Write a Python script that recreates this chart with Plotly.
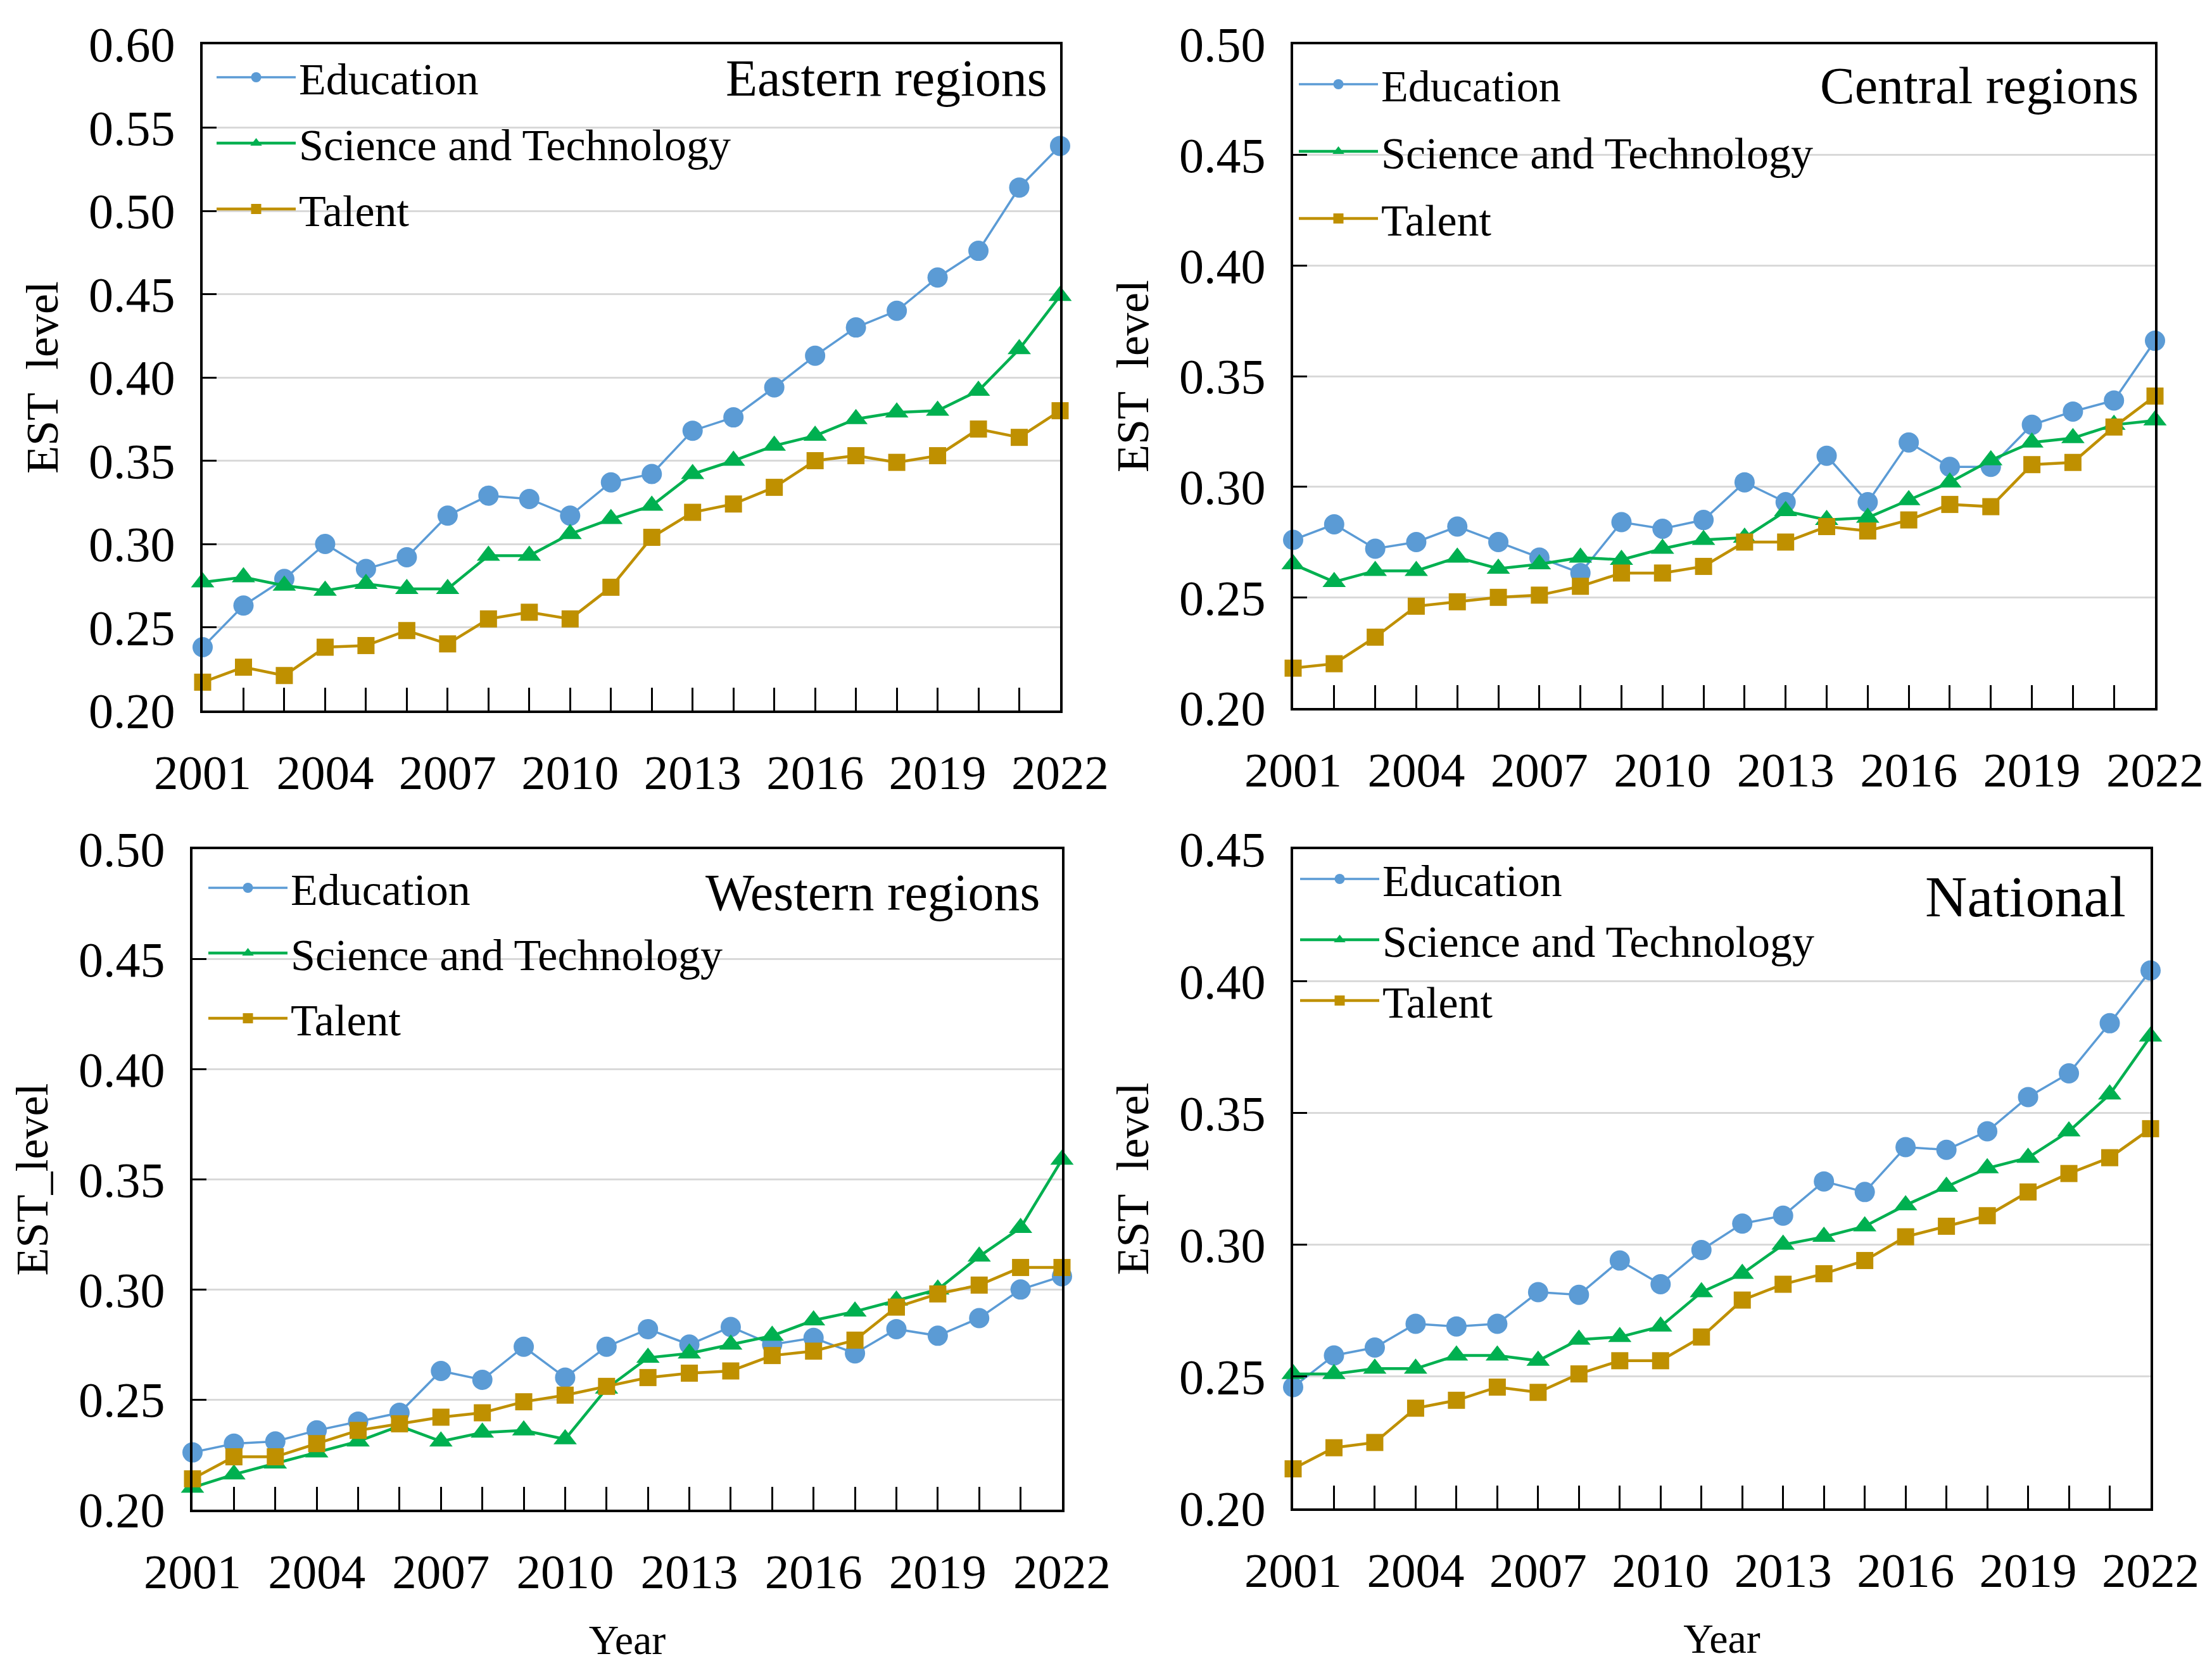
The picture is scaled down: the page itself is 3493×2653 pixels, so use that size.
import plotly.graph_objects as go
from plotly.subplots import make_subplots

years = list(range(2001, 2023))

# EST level
eastern_education = [0.238, 0.263, 0.279, 0.300, 0.285, 0.292, 0.317, 0.329, 0.327, 0.317, 0.337,
                     0.342, 0.368, 0.376, 0.394, 0.413, 0.430, 0.440, 0.460, 0.476, 0.514, 0.539]
eastern_science = [0.277, 0.280, 0.275, 0.272, 0.276, 0.273, 0.273, 0.293, 0.293, 0.306, 0.315,
                   0.323, 0.342, 0.350, 0.359, 0.365, 0.375, 0.379, 0.380, 0.392, 0.417, 0.449]
eastern_talent = [0.217, 0.226, 0.221, 0.238, 0.239, 0.248, 0.240, 0.255, 0.259, 0.255, 0.274,
                  0.304, 0.319, 0.324, 0.334, 0.350, 0.353, 0.349, 0.353, 0.369, 0.364, 0.380]

central_education = [0.276, 0.283, 0.272, 0.275, 0.282, 0.275, 0.268, 0.261, 0.284, 0.281, 0.285,
                     0.302, 0.293, 0.314, 0.293, 0.320, 0.309, 0.309, 0.328, 0.334, 0.339, 0.366]
central_science = [0.265, 0.257, 0.262, 0.262, 0.268, 0.263, 0.265, 0.268, 0.267, 0.272, 0.276,
                   0.277, 0.289, 0.285, 0.286, 0.294, 0.302, 0.312, 0.320, 0.322, 0.328, 0.330]
central_talent = [0.218, 0.220, 0.232, 0.246, 0.248, 0.250, 0.251, 0.255, 0.261, 0.261, 0.264,
                  0.275, 0.275, 0.282, 0.280, 0.285, 0.292, 0.291, 0.310, 0.311, 0.327, 0.341]

western_education = [0.226, 0.230, 0.231, 0.236, 0.240, 0.244, 0.263, 0.259, 0.274, 0.260, 0.274,
                     0.282, 0.275, 0.283, 0.275, 0.278, 0.271, 0.282, 0.279, 0.287, 0.300, 0.306]
western_science = [0.210, 0.216, 0.221, 0.226, 0.231, 0.238, 0.231, 0.235, 0.236, 0.232, 0.255,
                   0.269, 0.271, 0.275, 0.279, 0.286, 0.290, 0.295, 0.300, 0.315, 0.328, 0.359]
western_talent = [0.214, 0.224, 0.224, 0.230, 0.236, 0.239, 0.242, 0.244, 0.249, 0.252, 0.256,
                  0.260, 0.262, 0.263, 0.270, 0.272, 0.277, 0.292, 0.298, 0.302, 0.310, 0.310]

national_education = [0.246, 0.258, 0.261, 0.270, 0.269, 0.270, 0.282, 0.281, 0.294, 0.285, 0.298,
                      0.308, 0.311, 0.324, 0.320, 0.337, 0.336, 0.343, 0.356, 0.365, 0.384, 0.404]
national_science = [0.251, 0.251, 0.253, 0.253, 0.258, 0.258, 0.256, 0.264, 0.265, 0.269, 0.282,
                    0.289, 0.300, 0.303, 0.307, 0.315, 0.322, 0.329, 0.333, 0.343, 0.357, 0.379]
national_talent = [0.215, 0.223, 0.225, 0.238, 0.241, 0.246, 0.244, 0.251, 0.256, 0.256, 0.265,
                   0.279, 0.285, 0.289, 0.294, 0.303, 0.307, 0.311, 0.320, 0.327, 0.333, 0.344]

series_names = ["Education", "Science and Technology", "Talent"]
panel_titles = ["Eastern regions", "Central regions", "Western regions", "National"]
y_titles = ["EST\u2002level", "EST\u2002level", "EST_level", "EST\u2002level"]
y_ranges = [[0.20, 0.60], [0.20, 0.50], [0.20, 0.50], [0.20, 0.45]]

W, H = 3493, 2653
FONT = "Liberation Serif"

colors = ["#5B9BD5", "#00B050", "#BF9000"]
symbols = ["circle", "triangle-up", "square"]
msizes = [32, 32, 27]
lwidths = [3.5, 4.5, 4.5]

panel_data = [
    [eastern_education, eastern_science, eastern_talent],
    [central_education, central_science, central_talent],
    [western_education, western_science, western_talent],
    [national_education, national_science, national_talent],
]

fig = make_subplots(rows=2, cols=2)

legend_ids = ["legend", "legend2", "legend3", "legend4"]
for p, data in enumerate(panel_data):
    row, col = p // 2 + 1, p % 2 + 1
    for s in range(3):
        fig.add_trace(go.Scatter(
            x=years, y=data[s], name=series_names[s], mode="lines+markers",
            line=dict(color=colors[s], width=lwidths[s]),
            marker=dict(symbol=symbols[s], size=msizes[s], color=colors[s]),
            cliponaxis=False, legend=legend_ids[p], legendgroup=f"p{p}s{s}",
        ), row=row, col=col)

# panel boxes (pixels, top-left origin)
x_doms = [[312, 1666], [2034, 3395], [296, 1669], [2034, 3388]]
y_doms = [[62, 1114], [62, 1110], [1333, 2376], [1333, 2374]]

for p in range(4):
    sfx = "" if p == 0 else str(p + 1)
    fig.layout["xaxis" + sfx].update(
        domain=[x_doms[p][0] / W, x_doms[p][1] / W], automargin=False,
        range=[2001, 2022], tickmode="linear", tick0=2001, dtick=3,
        ticks="inside", ticklen=36, tickwidth=3, tickcolor="black",
        minor=dict(ticks="inside", dtick=1, ticklen=36, tickwidth=3, tickcolor="black"),
        showline=True, linecolor="black", linewidth=4, mirror=True,
        showgrid=False, zeroline=False,
        tickfont=dict(size=77, color="black", family=FONT),
        ticklabelstandoff=28,
    )
    fig.layout["yaxis" + sfx].update(
        domain=[1 - y_doms[p][1] / H, 1 - y_doms[p][0] / H], automargin=False,
        range=y_ranges[p], dtick=0.05, tickformat=".2f",
        ticks="inside", ticklen=22, tickwidth=3, tickcolor="black",
        showline=True, linecolor="black", linewidth=4, mirror=True,
        showgrid=True, gridcolor="#D9D9D9", gridwidth=3, zeroline=False,
        tickfont=dict(size=78, color="black", family=FONT),
        ticklabelstandoff=24,
        title=dict(text=y_titles[p], font=dict(size=72, color="black", family=FONT), standoff=26),
    )

for p in [2, 3]:
    sfx = str(p + 1)
    fig.layout["xaxis" + sfx].title = dict(text="Year", font=dict(size=66, color="black", family=FONT),
                                           standoff=42)

# legend left/top in pixels and the gap between entries
legend_pos = [(329, 62, 10), (2038, 73, 12), (316, 1342, 9), (2040, 1328, 2)]
for p in range(4):
    fig.layout[legend_ids[p]] = dict(
        x=legend_pos[p][0] / W, y=1 - legend_pos[p][1] / H, xanchor="left", yanchor="top",
        bgcolor="rgba(0,0,0,0)", itemwidth=125, tracegroupgap=legend_pos[p][2],
        font=dict(size=70, color="black", family=FONT),
    )

title_pos = [(1648, 116, 82), (3371, 127, 82), (1637, 1401, 82), (3351, 1408, 92)]
for p in range(4):
    fig.add_annotation(
        text=panel_titles[p], xref="paper", yref="paper",
        x=title_pos[p][0] / W, y=1 - title_pos[p][1] / H,
        xanchor="right", yanchor="middle", showarrow=False,
        font=dict(size=title_pos[p][2], color="black", family=FONT),
    )

fig.update_layout(
    width=W, height=H, margin=dict(l=0, r=0, t=0, b=0, autoexpand=False),
    paper_bgcolor="white", plot_bgcolor="white",
    font=dict(family=FONT, color="black"),
    showlegend=True,
)

fig.write_html("out.html")
